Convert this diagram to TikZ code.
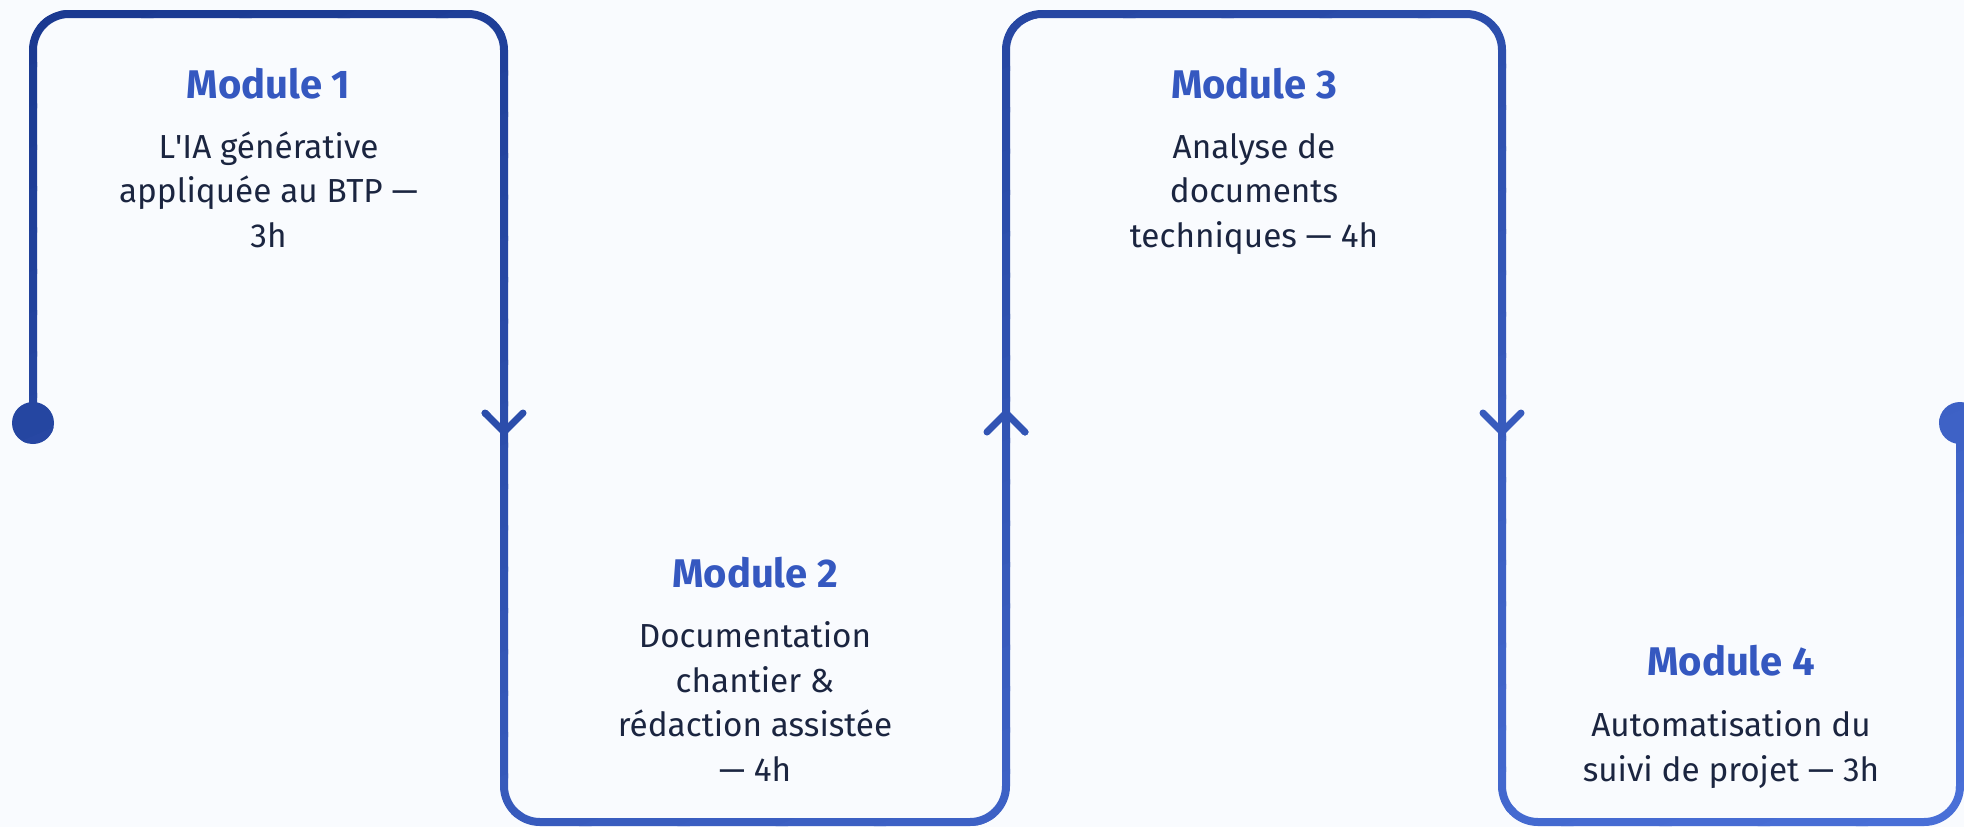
\documentclass[tikz,border=0pt]{standalone}
\usepackage{fontspec}
\setmainfont{Fira Sans}
\usetikzlibrary{calc}
\definecolor{bgc}{HTML}{F9FBFE}
\definecolor{gdark}{HTML}{18378E}
\definecolor{glight}{HTML}{4A70D8}
\definecolor{titlec}{HTML}{3558C0}
\definecolor{bodyc}{HTML}{1B2540}
\begin{document}
\begin{tikzpicture}[x=1pt,y=-1pt,
  serp/.style={line width=8pt, rounded corners=36pt, line join=round},
  chev/.style={line width=7pt, line cap=round, line join=round},
  title/.style={anchor=base, text=titlec, font=\fontsize{40}{48}\selectfont\bfseries, inner sep=0pt},
  body/.style={anchor=base, text=bodyc, font=\fontsize{33.3}{44.5}\selectfont, align=center, inner sep=0pt},
]
\fill[bgc] (0,0) rectangle (1964,827);
\useasboundingbox (0,0) rectangle (1964,827);
\coordinate (start) at (33,423);
\coordinate (k1) at (33,14);
\coordinate (k2) at (504,14);
\coordinate (k3) at (504,822);
\coordinate (k4) at (1006,822);
\coordinate (k5) at (1006,14);
\coordinate (k6) at (1502,14);
\coordinate (k7) at (1502,822);
\coordinate (k8) at (1960,822);
\coordinate (end) at (1960,423);
\coordinate (a1) at (504,432);
\coordinate (a2) at (1006,413);
\coordinate (a3) at (1502,432);
\foreach \i in {0,...,39}{
  \pgfmathsetmacro\ta{ifthenelse(\i==0,-0.5,\i/40-0.003)}
  \pgfmathsetmacro\tb{ifthenelse(\i==39,1.5,(\i+1)/40)}
  \pgfmathsetmacro\tm{(\i+0.5)/40*100}
  \colorlet{bandc}{glight!\tm!gdark}
  \begin{scope}
    \clip ({(2*\ta-1.5)*1964},{1.5*827}) -- ({(2*\ta+0.5)*1964},{-0.5*827}) -- ({(2*\tb+0.5)*1964},{-0.5*827}) -- ({(2*\tb-1.5)*1964},{1.5*827}) -- cycle;
    \draw[serp, bandc] (start) -- (k1) -- (k2) -- (k3) -- (k4) -- (k5) -- (k6) -- (k7) -- (k8) -- (end);
    \fill[bandc] (start) circle[radius=21];
    \fill[bandc] (end) circle[radius=21];
    \draw[chev, bandc] ($(a1)+(-19,-19)$) -- (a1) -- ($(a1)+(19,-19)$);
    \draw[chev, bandc] ($(a2)+(-19,19)$) -- (a2) -- ($(a2)+(19,19)$);
    \draw[chev, bandc] ($(a3)+(-19,-19)$) -- (a3) -- ($(a3)+(19,-19)$);
  \end{scope}
}
\node[title] (t1) at (268.5,98) {Module 1};
\node[body] (b1) at (268.5,247) {L\textquotesingle IA générative\\appliquée au BTP —\\3h};
\node[title] (t2) at (755,587) {Module 2};
\node[body] (b2) at (755,781) {Documentation\\chantier \&\\rédaction assistée\\— 4h};
\node[title] (t3) at (1254,98) {Module 3};
\node[body] (b3) at (1254,247) {Analyse de\\documents\\techniques — 4h};
\node[title] (t4) at (1731,675) {Module 4};
\node[body] (b4) at (1731,781) {Automatisation du\\suivi de projet — 3h};
\end{tikzpicture}
\end{document}
